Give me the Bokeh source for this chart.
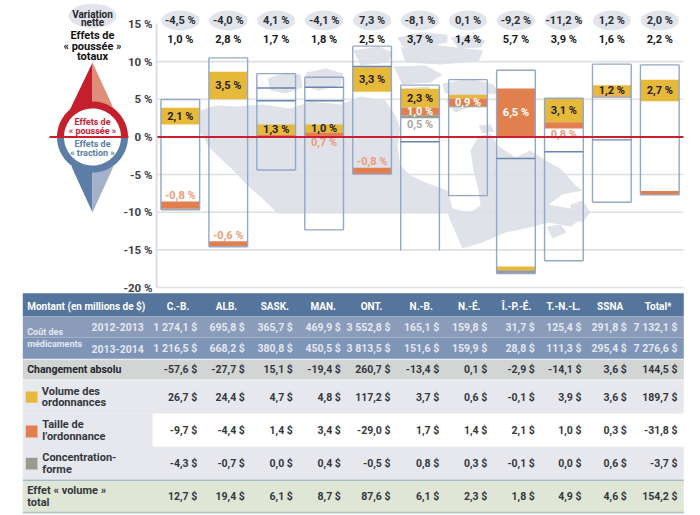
from bokeh.plotting import figure
from bokeh.models import Range1d, FixedTicker
from bokeh.core.properties import value
from bokeh.embed import file_html
from bokeh.resources import INLINE
import numpy as np

# ---------- data ----------
regions = ["C.-B.", "ALB.", "SASK.", "MAN.", "ONT.", "N.-B.", "N.-É.", "Î.-P.-É.", "T.-N.-L.", "SSNA", "Total*"]
net_change = ["-4,5 %", "-4,0 %", "4,1 %", "-4,1 %", "7,3 %", "-8,1 %", "0,1 %", "-9,2 %", "-11,2 %", "1,2 %", "2,0 %"]
total_push = ["1,0 %", "2,8 %", "1,7 %", "1,8 %", "2,5 %", "3,7 %", "1,4 %", "5,7 %", "3,9 %", "1,6 %", "2,2 %"]

box_top = [4.97, 10.5, 8.4, 7.93, 12.05, 6.87, 7.6, 8.86, 5.14, 9.66, 9.57]
box_bottom = [-9.69, -14.6, -4.4, -12.35, -4.95, -15.1, -7.8, -18.15, -16.45, -8.67, -7.7]
inner_a = [None, None, 6.5, 6.6, 9.35, -0.65, None, -2.87, -1.98, -0.39, None]
inner_b = [None, None, 4.8, 4.8, None, None, None, None, None, None, None]

yellow_hi = [3.86, 8.64, 1.65, 1.65, 9.26, 6.38, 5.6, -17.2, 5.14, 6.87, 7.58]
yellow_lo = [1.65, 5.01, 0.3, 0.58, 5.98, 3.9, 5.1, -17.7, 1.96, 5.5, 4.75]
orange_hi = [-8.58, -13.85, 0.3, 0.58, -4.1, 3.9, 5.1, 6.43, 1.96, 5.5, -7.17]
orange_lo = [-9.55, -14.5, 0.0, 0.0, -4.95, 2.89, 4.08, 0.0, 1.12, 5.37, -7.7]
grey_hi = [-9.55, -14.5, 0.0, 0.0, -4.95, 2.89, 4.08, -17.7, 1.12, 5.37, -7.7]
grey_lo = [-9.69, -14.6, 0.0, 0.0, -4.95, 2.49, 3.95, -18.15, 1.12, 5.2, -7.7]

yellow_labels = ["2,1 %", "3,5 %", "1,3 %", "1,0 %", "3,3 %", "2,3 %", "", "", "3,1 %", "1,2 %", "2,7 %"]
orange_labels = ["-0,8 %", "-0,6 %", "", "0,7 %", "-0,8 %", "1,0 %", "0,9 %", "6,5 %", "0,8 %", "", ""]
orange_place = ["above", "above", "", "below", "above", "in", "in", "in", "below", "", ""]
grey_labels = ["", "", "", "", "", "0,5 %", "", "", "", "", ""]

y_ticks = [15, 10, 5, 0, -5, -10, -15, -20]
grid_ticks = [10, 5, -5, -10, -15, -20]

cost_2012 = ["1 274,1 $", "695,8 $", "365,7 $", "469,9 $", "3 552,8 $", "165,1 $", "159,8 $", "31,7 $", "125,4 $", "291,8 $", "7 132,1 $"]
cost_2013 = ["1 216,5 $", "668,2 $", "380,8 $", "450,5 $", "3 813,5 $", "151,6 $", "159,9 $", "28,8 $", "111,3 $", "295,4 $", "7 276,6 $"]
abs_change = ["-57,6 $", "-27,7 $", "15,1 $", "-19,4 $", "260,7 $", "-13,4 $", "0,1 $", "-2,9 $", "-14,1 $", "3,6 $", "144,5 $"]
volume = ["26,7 $", "24,4 $", "4,7 $", "4,8 $", "117,2 $", "3,7 $", "0,6 $", "-0,1 $", "3,9 $", "3,6 $", "189,7 $"]
size = ["-9,7 $", "-4,4 $", "1,4 $", "3,4 $", "-29,0 $", "1,7 $", "1,4 $", "2,1 $", "1,0 $", "0,3 $", "-31,8 $"]
conc = ["-4,3 $", "-0,7 $", "0,0 $", "0,4 $", "-0,5 $", "0,8 $", "0,3 $", "-0,1 $", "0,0 $", "0,6 $", "-3,7 $"]
vol_total = ["12,7 $", "19,4 $", "6,1 $", "8,7 $", "87,6 $", "6,1 $", "2,3 $", "1,8 $", "4,9 $", "4,6 $", "154,2 $"]

# ---------- layout and style ----------
W, H = 700, 515
ZERO_PX, PX_PER_PCT = 136.4, 7.53
BAR_CX = [179.8 + 47.95 * i for i in range(11)]
BAR_W = 38.7
HEAD_CX = [177.5, 226, 274.3, 322.7, 371, 420.7, 468.7, 516, 563, 609.7, 657.7]
VAL_RX = [196.7, 244.3, 292.3, 340.3, 390, 438.7, 486.7, 534.3, 581, 626.3, 677]
YEL, ORA, GRY = "#e6b93a", "#e27f4f", "#9b9a8f"
RED = "#c8202f"
DARK = "#23262b"
MAP = "#dfe2e9"
F = value("Roboto")

p = figure(width=W, height=H, x_range=Range1d(0, W),
           y_range=Range1d((ZERO_PX - H) / PX_PER_PCT, ZERO_PX / PX_PER_PCT),
           x_axis_location=None, toolbar_location=None, output_backend="svg",
           min_border=0, min_border_left=0, min_border_right=0, min_border_top=0, min_border_bottom=0,
           outline_line_color=None, background_fill_color="white")
p.styles = {"position": "absolute", "left": "0px", "top": "0px"}
p.extra_y_ranges = {"px": Range1d(H, 0)}
p.grid.visible = False

ax = p.yaxis[0]
ax.fixed_location = 156
ax.bounds = (-20, 15)
ax.ticker = FixedTicker(ticks=y_ticks)
ax.major_label_overrides = {t: f"{t} %" for t in y_ticks}
ax.major_tick_line_color = None
ax.minor_tick_line_color = None
ax.major_tick_out = 0
ax.major_label_standoff = 4
ax.axis_line_color = "#dcdfe4"
ax.axis_line_width = 2
ax.major_label_text_font = "Roboto"
ax.major_label_text_font_size = "11.5px"
ax.major_label_text_font_style = "bold"
ax.major_label_text_color = "#3d4148"


def txt(xs, ys, texts, size="11px", color=DARK, align="center", bold=False, font=F, px=True):
    kw = {"y_range_name": "px"} if px else {}
    p.text(xs, ys, text=texts, text_font=font, text_font_size=value(size), text_color=color,
           text_align=align, text_baseline="middle", text_font_style="bold" if bold else "normal", **kw)


def rect(x0, x1, y0, y1, color):
    p.quad(left=[x0], right=[x1], top=[y0], bottom=[y1], fill_color=color, line_color=None, y_range_name="px")


# ---------- map (decorative backdrop, page pixels) ----------
map_polys = [
    [(200,110),(215,105),(235,106),(262,104),(290,108),(310,101),(340,104),(360,96),(385,100),(395,115),(400,128),
     (397,145),(400,165),(410,175),(425,182),(447,190),(452,208),(470,212),(480,205),(478,190),(473,170),(470,150),(478,136),
     (490,133),(497,145),(515,157),(530,150),(545,160),(560,168),(575,185),(582,190),(562,194),(548,204),(570,208),
     (585,216),(570,226),(548,222),(525,228),(505,232),(482,242),(462,248),(455,232),(447,213),(277,213),(262,198),
     (247,185),(233,170),(220,158),(208,146),(200,132)],
    [(267,78),(285,72),(300,74),(302,87),(285,93),(270,90)],
    [(306,72),(325,68),(343,73),(340,85),(318,90),(304,86)],
    [(353,50),(378,46),(392,52),(388,62),(360,65)],
    [(397,37),(420,32),(447,34),(447,42),(420,47),(402,46)],
    [(450,37),(470,35),(485,40),(480,47),(458,48)],
    [(400,47),(430,44),(483,50),(478,61),(440,64),(405,62)],
    [(352,68),(372,66),(390,70),(384,84),(358,84)],
    [(393,66),(425,65),(442,74),(430,82),(402,84)],
    [(442,83),(470,78),(493,84),(498,93),(478,95),(455,96),(444,92)],
    [(402,88),(428,86),(438,98),(420,106),(404,102)],
    [(445,100),(462,98),(470,106),(455,112)],
    [(478,125),(490,124),(494,131),(482,133)],
    [(570,204),(582,200),(590,212),(582,222),(572,218)],
    [(546,226),(560,224),(566,232),(552,238)],
]
p.patches([[c[0] for c in poly] for poly in map_polys], [[c[1] for c in poly] for poly in map_polys],
          fill_color=MAP, line_color=None, y_range_name="px")

# ---------- chart ----------
p.segment([156] * len(grid_ticks), grid_ticks, [683] * len(grid_ticks), grid_ticks, line_color="#dcdfe4", line_width=1.6)

left = [c - BAR_W / 2 for c in BAR_CX]
right = [c + BAR_W / 2 for c in BAR_CX]
for lo, hi, col in ((yellow_lo, yellow_hi, YEL), (orange_lo, orange_hi, ORA), (grey_lo, grey_hi, GRY)):
    p.quad(left=left, right=right, top=hi, bottom=lo, fill_color=col, line_color=None)

BOX = "#93a7c6"
p.segment(left, box_top, right, box_top, line_color=BOX, line_width=1.4)
p.segment(left, box_top, left, box_bottom, line_color=BOX, line_width=1.4)
p.segment(right, box_top, right, box_bottom, line_color=BOX, line_width=1.4)
keep = [i for i in range(11) if regions[i] != "N.-B."]
p.segment([left[i] for i in keep], [box_bottom[i] for i in keep], [right[i] for i in keep], [box_bottom[i] for i in keep],
          line_color=BOX, line_width=1.4)
for inner in (inner_a, inner_b):
    idx = [i for i in range(11) if inner[i] is not None]
    p.segment([left[i] for i in idx], [inner[i] for i in idx], [right[i] for i in idx], [inner[i] for i in idx],
              line_color="#6a86ae", line_width=1.4)

idx = [i for i in range(11) if yellow_labels[i]]
txt([BAR_CX[i] for i in idx], [(yellow_lo[i] + yellow_hi[i]) / 2 for i in idx], [yellow_labels[i] for i in idx],
    bold=True, color="#1f2023", px=False)
for i in range(11):
    if orange_labels[i]:
        pos = orange_place[i]
        if pos == "above":
            y, c = orange_hi[i] + 0.8, "#eb9b7b"
        elif pos == "below":
            y, c = orange_lo[i] - 0.8, "#eb9b7b"
        else:
            y, c = (orange_lo[i] + orange_hi[i]) / 2, "white"
        txt([BAR_CX[i]], [y], [orange_labels[i]], color=c, bold=True, px=False)
    if grey_labels[i]:
        txt([BAR_CX[i]], [grey_lo[i] - 0.84], [grey_labels[i]], color="#a8a69f", bold=True, px=False)

# ovals and top rows
p.ellipse(BAR_CX, [20] * 11, width=38, height=20, fill_color="#e1e4ea", line_color=None, y_range_name="px")
txt(BAR_CX, [20] * 11, net_change, color="#2b2e33", bold=True)
txt(BAR_CX, [39] * 11, total_push, color="#15171a", bold=True)

p.segment([156], [0], [683], [0], line_color=RED, line_width=2)

# ---------- compass key ----------
CX, CY = 92, 136.5
p.ellipse([CX], [15.3], width=48, height=24, fill_color="#e1e4ea", line_color=None, y_range_name="px")
txt([CX, CX], [13.5, 21.5], ["Variation", "nette"], size="10px", bold=True)
txt([CX, CX, CX], [35, 45.5, 55.5], ["Effets de", "« poussée »", "totaux"], size="11px", bold=True, color="#111")

p.patch([CX, CX, 69], [62, 120, 110], fill_color="#c41f2c", line_color=None, y_range_name="px")
p.patch([CX, CX, 114], [62, 120, 110], fill_color="#dd8f78", line_color=None, y_range_name="px")
p.patch([CX, CX, 71], [212, 150, 166], fill_color="#5b7da6", line_color=None, y_range_name="px")
p.patch([CX, CX, 113], [212, 150, 166], fill_color="#a3b2ca", line_color=None, y_range_name="px")

th = np.linspace(0, np.pi, 60)
p.patch(list(CX + 35.5 * np.cos(th)), list(CY - 35.5 * np.sin(th)), fill_color="#c41f2c", line_color=None, y_range_name="px")
p.patch(list(CX + 35.5 * np.cos(th)), list(CY + 35.5 * np.sin(th)), fill_color="#5b7da6", line_color=None, y_range_name="px")
th2 = np.linspace(0, 2 * np.pi, 90)
p.patch(list(CX + 28.5 * np.cos(th2)), list(CY + 28.5 * np.sin(th2)), fill_color="white", line_color=None, y_range_name="px")
p.segment([49], [0], [128], [0], line_color=RED, line_width=2)
txt([CX, CX], [121.7, 130.3], ["Effets de", "« poussée »"], size="9px", bold=True, color=RED)
txt([CX, CX], [143.3, 152], ["Effets de", "« traction »"], size="9px", bold=True, color="#5b7da6")

# ---------- table ----------
TL, TR = 22.3, 683.3
rect(TL, TR, 292.7, 315.7, "#55759d")
rect(TL, TR, 315.7, 337, "#8b9cbb")
rect(TL, TR, 337, 358.3, "#7f95b7")
rect(TL, TR, 359, 379, "#d3d5d5")
rect(TL, TR, 379.7, 413, "#e7e8ee")
rect(TL, 152, 413, 446.3, "#e7e8ee")
rect(TL, TR, 446.3, 479, "#e7e8ee")
rect(TL, TR, 479, 480.6, "#a8b8cf")
rect(TL, TR, 480.6, 511, "#dfe6d5")
rect(TL, TR, 511, 513, "#b6c6bc")

txt([26.7], [305.7], ["Montant (en millions de $)"], size="10px", bold=True, color="white", align="left")
txt(HEAD_CX, [305.7] * 11, regions, size="10px", bold=True, color="white")

LIGHT = "#e3e8f1"
txt([26.7, 26.7], [331, 343.7], ["Coût des", "médicaments"], size="9px", color=LIGHT, align="left", bold=True)
txt([143.3, 143.3], [326.7, 348], ["2012-2013", "2013-2014"], size="10.5px", color=LIGHT, align="right", bold=True)
txt(VAL_RX, [326.7] * 11, cost_2012, size="10.5px", color=LIGHT, align="right", bold=True)
txt(VAL_RX, [348] * 11, cost_2013, size="10.5px", color=LIGHT, align="right", bold=True)

txt([26.7], [369.3], ["Changement absolu"], size="10.5px", bold=True, align="left")
rows = [(369.3, abs_change), (397, volume), (429.7, size), (463, conc), (496, vol_total)]
for y, vals in rows:
    txt(VAL_RX, [y] * 11, vals, size="10.5px", align="right", bold=True, color="#33373d")

rect(25.3, 37, 391, 402.3, YEL)
rect(25.3, 37, 425, 437, ORA)
rect(25.3, 37, 457.3, 469, GRY)
txt([41.3, 41.3], [390.7, 402.3], ["Volume des", "ordonnances"], size="11px", align="left", bold=True, color="#33373d")
txt([41.7, 41.7], [423.7, 436.3], ["Taille de", "l’ordonnance"], size="11px", align="left", bold=True, color="#33373d")
txt([41.7, 41.7], [457, 469.3], ["Concentration-", "forme"], size="11px", align="left", bold=True, color="#33373d")
txt([26.7, 26.7], [489.7, 502.3], ["Effet « volume »", "total"], size="11px", align="left", bold=True, color="#33373d")

open("out.html", "w").write(file_html(p, INLINE))
